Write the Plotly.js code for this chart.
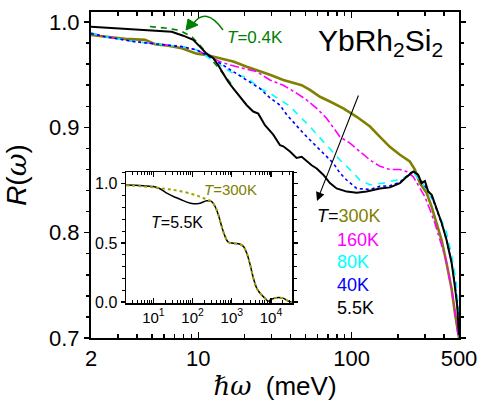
<!DOCTYPE html>
<html>
<head>
<meta charset="utf-8">
<script src="https://cdn.plot.ly/plotly-3.0.1.min.js"></script>
<style>html,body{margin:0;padding:0;background:#fff;}#chart{width:480px;height:401px;}</style>
</head>
<body>
<div id="chart"></div>
<script>
// ---- main panel data: photon energy (meV) and reflectivity R ----
const x300 = [2.0, 2.47, 3.33, 4.5, 5.23, 6.38, 7.8, 9.77, 11.35, 13.8, 16.9, 20.7, 24.0, 29.3, 35.8, 41.6, 47.2, 53.4, 62.1, 72.1, 88.1, 107.7, 131.5, 152.7, 177, 206, 239, 258, 278, 307, 331, 357, 385, 415, 448, 470, 494, 500];
const r300 = [0.9877, 0.986, 0.984, 0.983, 0.979, 0.9775, 0.975, 0.970, 0.9687, 0.9656, 0.9624, 0.9576, 0.9545, 0.950, 0.945, 0.942, 0.940, 0.9355, 0.929, 0.9245, 0.918, 0.910, 0.9008, 0.891, 0.8815, 0.874, 0.8676, 0.860, 0.847, 0.838, 0.825, 0.809, 0.793, 0.771, 0.746, 0.724, 0.702, 0.700];

const x160 = [2.0, 2.47, 3.87, 6.3, 7.8, 9.77, 11.9, 13.8, 16.1, 19.6, 24.0, 29.3, 35.8, 43.7, 50.8, 59.1, 68.5, 83.8, 97.3, 113, 131.5, 152.7, 177, 206, 228, 252, 278, 300, 323, 348, 376, 405, 436, 463, 487, 500];
const r160 = [0.9896, 0.986, 0.9813, 0.978, 0.9766, 0.9735, 0.967, 0.9624, 0.9592, 0.956, 0.9529, 0.945, 0.940, 0.9324, 0.926, 0.918, 0.9087, 0.891, 0.885, 0.877, 0.869, 0.863, 0.860, 0.860, 0.858, 0.853, 0.842, 0.834, 0.822, 0.809, 0.793, 0.778, 0.755, 0.733, 0.708, 0.700];

const x80 = [2.0, 2.47, 3.87, 6.3, 7.8, 9.77, 11.9, 13.8, 16.9, 20.7, 25.2, 29.3, 34.1, 39.6, 46.0, 53.4, 62.1, 72.1, 83.8, 97.3, 113, 131.5, 159.6, 196, 228, 252, 278, 307, 340, 376, 415, 448, 477, 494, 500];
const r80 = [0.9896, 0.986, 0.9813, 0.978, 0.9766, 0.9735, 0.9656, 0.959, 0.951, 0.9474, 0.937, 0.9324, 0.926, 0.920, 0.910, 0.9008, 0.890, 0.879, 0.869, 0.860, 0.850, 0.8455, 0.847, 0.850, 0.853, 0.857, 0.850, 0.842, 0.8297, 0.8155, 0.800, 0.778, 0.7555, 0.730, 0.705];

const x40 = [2.0, 2.47, 3.87, 6.3, 7.8, 9.77, 11.9, 14.5, 17.8, 21.7, 25.2, 29.3, 34.1, 37.7, 43.7, 48.3, 56.1, 65.2, 75.8, 83.8, 92.7, 107.7, 131.5, 152.7, 177, 206, 228, 252, 271, 288, 307, 331, 357, 385, 415, 448, 470, 487, 500];
const r40 = [0.989, 0.986, 0.9813, 0.978, 0.9766, 0.9735, 0.967, 0.959, 0.951, 0.9434, 0.937, 0.928, 0.921, 0.912, 0.901, 0.8945, 0.885, 0.8755, 0.866, 0.8566, 0.850, 0.842, 0.841, 0.844, 0.8445, 0.848, 0.854, 0.859, 0.854, 0.848, 0.842, 0.835, 0.822, 0.809, 0.793, 0.772, 0.751, 0.732, 0.704];

const x5 = [2.0, 3.01, 4.5, 6.71, 7.98, 9.27, 10.25, 11.34, 12.53, 13.5, 14.55, 15.7, 16.9, 18.7, 20.7, 22.8, 24.6, 27.2, 30.8, 34.1, 35.8, 39.6, 43.7, 47.2, 50.8, 54.8, 59.1, 65.2, 72.1, 79.7, 92.7, 107.7, 125, 152.7, 177.4, 206, 228, 252, 271, 285, 300, 315, 332, 358, 386, 415, 448, 470, 487, 500];
const r5 = [0.9955, 0.994, 0.9924, 0.9908, 0.987, 0.983, 0.9766, 0.970, 0.9656, 0.959, 0.951, 0.943, 0.937, 0.929, 0.921, 0.915, 0.913, 0.902, 0.893, 0.883, 0.882, 0.877, 0.871, 0.872, 0.868, 0.864, 0.861, 0.855, 0.847, 0.842, 0.839, 0.838, 0.839, 0.842, 0.843, 0.847, 0.853, 0.858, 0.855, 0.847, 0.849, 0.839, 0.836, 0.822, 0.809, 0.793, 0.771, 0.749, 0.730, 0.703];

const x04 = [4.84, 6.07, 7.6, 9.1, 10.25, 11.6, 13.2, 14.7, 16.9];
const r04 = [0.9957, 0.9943, 0.992, 0.9858, 0.978, 0.9687, 0.959, 0.950, 0.9387];

// ---- inset data (broad range) ----
const xin5 = [2.0, 4.6, 10, 14.8, 21.9, 32.4, 47.9, 71, 105, 155, 229, 307, 374, 455, 553, 673, 815, 1100, 1630, 1990, 2410, 2940, 3560, 4340, 5270, 7060, 8560, 10400, 14000, 20800, 27500, 34000];
const rin5 = [0.99, 0.986, 0.977, 0.958, 0.921, 0.893, 0.870, 0.845, 0.831, 0.836, 0.856, 0.850, 0.808, 0.737, 0.638, 0.554, 0.506, 0.497, 0.489, 0.469, 0.412, 0.314, 0.200, 0.116, 0.074, 0.031, 0.008, 0.025, 0.037, 0.031, 0.008, 0.0];
const xin300 = [2.0, 5, 10, 20, 30, 50, 100, 150, 200, 250, 307, 374, 455, 553, 673, 815, 1100, 1630, 1990, 2410, 2940, 3560, 4340, 5270, 7060, 8560, 10400, 14000, 20800, 27500, 34000];
const rin300 = [0.988, 0.979, 0.970, 0.958, 0.950, 0.938, 0.912, 0.893, 0.876, 0.864, 0.850, 0.808, 0.737, 0.638, 0.554, 0.506, 0.497, 0.489, 0.469, 0.412, 0.314, 0.200, 0.116, 0.074, 0.031, 0.008, 0.025, 0.037, 0.031, 0.008, 0.0];

// ---- tick labels ----
const mainXTicks = [2, 10, 100, 500];
const mainXTickText = ['2', '10', '100', '500'];
const mainYTicks = [0.7, 0.8, 0.9, 1.0];
const mainYTickText = ['0.7', '0.8', '0.9', '1.0'];
const insetXTicks = [10, 100, 1000, 10000];
const insetXTickText = ['10<sup>1</sup>', '10<sup>2</sup>', '10<sup>3</sup>', '10<sup>4</sup>'];
const insetYTicks = [0, 0.5, 1.0];
const insetYTickText = ['0.0', '0.5', '1.0'];
const tempLabels = ['300K', '160K', '80K', '40K', '5.5K'];

// ---- styles ----
const OLIVE = '#808000';
const tempColors = [OLIVE, '#ff00ff', '#00ffff', '#0000ff', '#000000'];
const FONT = 'Arial, "Liberation Sans", sans-serif';

function minorLog(lo, hi) {
  const v = [];
  for (let d = Math.pow(10, Math.floor(Math.log10(lo))); d <= hi; d *= 10) {
    for (let k = 2; k <= 9; k++) { const t = k * d; if (t >= lo && t <= hi) v.push(t); }
  }
  return v;
}

const traces = [
  {x: x04, y: r04, mode: 'lines', line: {color: '#008000', width: 1.6, dash: '6px,5px'}, xaxis: 'x', yaxis: 'y'},
  {x: x300, y: r300, mode: 'lines', line: {color: OLIVE, width: 2.6}, xaxis: 'x', yaxis: 'y'},
  {x: x160, y: r160, mode: 'lines', line: {color: '#ff00ff', width: 1.6, dash: 'dashdot'}, xaxis: 'x', yaxis: 'y'},
  {x: x80, y: r80, mode: 'lines', line: {color: '#00ffff', width: 1.6, dash: '7px,6px'}, xaxis: 'x', yaxis: 'y'},
  {x: x40, y: r40, mode: 'lines', line: {color: '#0000ff', width: 1.6, dash: 'dot'}, xaxis: 'x', yaxis: 'y'},
  {x: x5, y: r5, mode: 'lines', line: {color: '#000000', width: 2}, xaxis: 'x', yaxis: 'y'},
  {x: xin5, y: rin5, mode: 'lines', line: {color: '#000000', width: 1.5, shape: 'spline'}, xaxis: 'x2', yaxis: 'y2'},
  {x: xin300, y: rin300, mode: 'lines', line: {color: '#a0a000', width: 2, dash: 'dot', shape: 'spline'}, xaxis: 'x2', yaxis: 'y2'}
];

// paper coordinate helpers for pixel-positioned decorations
const PL = 91, PR = 459, PT = 12, PB = 338;
const px = v => (v - PL) / (PR - PL);
const py = v => (PB - v) / (PB - PT);

const annotations = [
  {xref: 'paper', yref: 'paper', x: px(380), y: py(42), text: 'YbRh<sub>2</sub>Si<sub>2</sub>', showarrow: false,
   font: {family: FONT, size: 30, color: '#000'}, xanchor: 'center', yanchor: 'middle'},
  {xref: 'paper', yref: 'paper', x: px(225), y: py(38), text: '<i>T</i>=0.4K', showarrow: false,
   font: {family: FONT, size: 17, color: '#008000'}, xanchor: 'left', yanchor: 'middle'},
  {xref: 'paper', yref: 'paper', x: px(317), y: py(201), ax: 42, ay: -107, text: '', showarrow: true,
   arrowhead: 2, arrowsize: 1.6, arrowwidth: 1.1, arrowcolor: '#000'},
  {xref: 'paper', yref: 'paper', x: px(202), y: py(189), text: '<i>T</i>=300K', showarrow: false,
   font: {family: FONT, size: 15, color: OLIVE}, xanchor: 'left', yanchor: 'middle'},
  {xref: 'paper', yref: 'paper', x: px(149), y: py(222), text: '<i>T</i>=5.5K', showarrow: false,
   font: {family: FONT, size: 16, color: '#000'}, xanchor: 'left', yanchor: 'middle'}
];
const legendY = [216, 240, 262, 285, 308];
tempLabels.forEach((t, i) => {
  if (i === 0) {
    annotations.push({xref: 'paper', yref: 'paper', x: px(315), y: py(legendY[i]),
      text: `<i>T</i>=<span style="color:${tempColors[i]}">${t}</span>`, showarrow: false,
      font: {family: FONT, size: 18, color: '#000'}, xanchor: 'left', yanchor: 'middle'});
  } else {
    annotations.push({xref: 'paper', yref: 'paper', x: px(335), y: py(legendY[i]), text: t, showarrow: false,
      font: {family: FONT, size: 18, color: tempColors[i]}, xanchor: 'left', yanchor: 'middle'});
  }
});

const shapes = [
  {type: 'path', xref: 'paper', yref: 'paper',
   path: `M ${px(223)},${py(30)} Q ${px(206)},${py(6)} ${px(193)},${py(24)}`,
   line: {color: '#008000', width: 1.5}},
  {type: 'path', xref: 'paper', yref: 'paper',
   path: `M ${px(186)},${py(30)} L ${px(188)},${py(19)} L ${px(198)},${py(25)} Z`,
   fillcolor: '#008000', line: {color: '#008000', width: 1}}
];

const layout = {
  width: 480, height: 401,
  margin: {l: PL, r: 480 - PR, t: PT, b: 401 - PB, pad: 0},
  paper_bgcolor: '#fff', plot_bgcolor: '#fff',
  showlegend: false,
  font: {family: FONT, color: '#000'},
  xaxis: {
    type: 'log', range: [Math.log10(2), Math.log10(500)],
    tickmode: 'array', tickvals: mainXTicks, ticktext: mainXTickText,
    ticks: 'inside', ticklen: 6, tickwidth: 1.5, tickcolor: '#000',
    showline: true, linewidth: 2, linecolor: '#000', mirror: 'ticks',
    showgrid: false, zeroline: false,
    tickfont: {size: 22, family: FONT},
    minor: {tickmode: 'array', tickvals: minorLog(2, 500), ticks: 'inside', ticklen: 4, tickwidth: 1.5, tickcolor: '#000', showgrid: false},
    title: {text: '<span style="font-family:\'DejaVu Serif\',serif"><i>ℏω</i></span>\u00a0\u00a0(meV)', font: {size: 26, family: FONT}, standoff: 6}
  },
  yaxis: {
    range: [0.7, 1.0095],
    tickmode: 'array', tickvals: mainYTicks, ticktext: mainYTickText,
    ticks: 'outside', ticklen: 5, tickwidth: 1.5, tickcolor: '#000',
    showline: true, linewidth: 2, linecolor: '#000', mirror: 'ticks',
    showgrid: false, zeroline: false,
    tickfont: {size: 22, family: FONT},
    minor: {dtick: 0.02, tick0: 0.7, ticks: 'outside', ticklen: 3, tickwidth: 1.5, tickcolor: '#000', showgrid: false},
    title: {text: '<i>R</i>(<span style="font-family:\'DejaVu Serif\',serif"><i>ω</i></span>)', font: {size: 28, family: FONT}, standoff: 14}
  },
  xaxis2: {
    anchor: 'y2', domain: [px(126), px(292)],
    type: 'log', range: [Math.log10(2), 4.535],
    tickmode: 'array', tickvals: insetXTicks, ticktext: insetXTickText,
    ticks: 'inside', ticklen: 5, tickwidth: 1.2, tickcolor: '#000',
    showline: true, linewidth: 1.5, linecolor: '#000', mirror: 'ticks',
    showgrid: false, zeroline: false,
    tickfont: {size: 15, family: FONT},
    minor: {tickmode: 'array', tickvals: minorLog(2, 34000), ticks: 'inside', ticklen: 3, tickwidth: 1, tickcolor: '#000', showgrid: false}
  },
  yaxis2: {
    anchor: 'x2', domain: [py(303), py(172)],
    range: [-0.008, 1.1],
    tickmode: 'array', tickvals: insetYTicks, ticktext: insetYTickText,
    ticks: 'outside', ticklen: 4, tickwidth: 1.2, tickcolor: '#000',
    showline: true, linewidth: 1.5, linecolor: '#000', mirror: 'ticks',
    showgrid: false, zeroline: false,
    tickfont: {size: 16, family: FONT},
    minor: {dtick: 0.1, tick0: 0, ticks: 'outside', ticklen: 3, tickwidth: 1, tickcolor: '#000', showgrid: false}
  },
  annotations: annotations,
  shapes: shapes
};

Plotly.newPlot('chart', traces, layout, {staticPlot: true, displayModeBar: false});
</script>
</body>
</html>
